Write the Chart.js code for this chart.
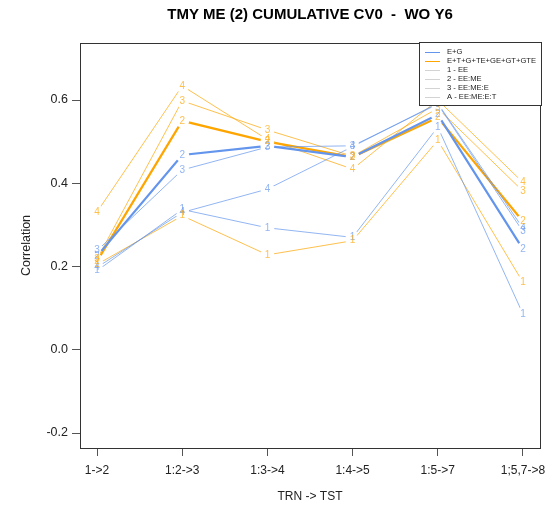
<!DOCTYPE html>
<html>
<head>
<meta charset="utf-8">
<script src="https://cdn.jsdelivr.net/npm/chart.js@4/dist/chart.umd.min.js"></script>
<style>
  body { margin: 0; background: #fff; }
  #wrap { width: 549px; height: 512px; }
</style>
</head>
<body>
<div id="wrap"><canvas id="grafica" width="549" height="512"></canvas></div>
<script>
const categorias = ["1->2", "1:2->3", "1:3->4", "1:4->5", "1:5->7", "1;5,7->8"];
const ticksY = [-0.2, 0.0, 0.2, 0.4, 0.6];

// E+G (azul)
const azul1 = [0.190, 0.337, 0.293, 0.270, 0.535, 0.086];
const azul2 = [0.225, 0.468, 0.490, 0.463, 0.565, 0.242];
const azul3 = [0.238, 0.432, 0.487, 0.490, 0.590, 0.284];
const azul4 = [0.198, 0.330, 0.386, 0.488, 0.592, 0.292];

// E+T+G+TE+GE+GT+GTE (naranja)
const naranja1 = [0.205, 0.322, 0.228, 0.262, 0.503, 0.162];
const naranja2 = [0.213, 0.550, 0.500, 0.463, 0.558, 0.308];
const naranja3 = [0.218, 0.598, 0.528, 0.465, 0.580, 0.381];
const naranja4 = [0.331, 0.634, 0.505, 0.434, 0.600, 0.402];

const leyenda = [
  { texto: "E+G", color: "#6495ED" },
  { texto: "E+T+G+TE+GE+GT+GTE", color: "#FFA500" },
  { texto: "1 - EE", color: "#d3d3d3" },
  { texto: "2 - EE:ME", color: "#d3d3d3" },
  { texto: "3 - EE:ME:E", color: "#d3d3d3" },
  { texto: "A - EE:ME:E:T", color: "#d3d3d3" }
];

const AZUL_CLARO = "rgba(100,149,237,0.7)";
const NARANJA_CLARO = "rgba(255,165,0,0.7)";
const FUENTE = "'Liberation Sans', Arial, sans-serif";

function serie(valores, marca, color, grueso) {
  return {
    data: valores.map((v, i) => ({ x: i + 1, y: v })),
    marca: marca,
    colorMarca: color === "azul" ? AZUL_CLARO : NARANJA_CLARO,
    borderColor: grueso ? (color === "azul" ? "#6495ED" : "#FFA500") : (color === "azul" ? AZUL_CLARO : NARANJA_CLARO),
    borderWidth: grueso ? 2.2 : 1,
    pointRadius: 0,
    tension: 0,
    fill: false
  };
}

// lineas con hueco alrededor de cada numero (como type="b" en R)
const huecos = {
  id: "huecos",
  beforeDatasetDraw(chart, args) {
    const ctx = chart.ctx;
    ctx.save();
    ctx.beginPath();
    ctx.rect(0, 0, chart.width, chart.height);
    args.meta.data.forEach(p => {
      ctx.moveTo(p.x + 7, p.y);
      ctx.arc(p.x, p.y, 7, 0, Math.PI * 2);
    });
    ctx.clip("evenodd");
  },
  afterDatasetDraw(chart) {
    chart.ctx.restore();
  }
};

const marcas = {
  id: "marcas",
  afterDatasetsDraw(chart) {
    const ctx = chart.ctx;
    ctx.save();
    ctx.font = "10px " + FUENTE;
    ctx.textAlign = "center";
    ctx.textBaseline = "middle";
    chart.data.datasets.forEach((ds, i) => {
      ctx.fillStyle = ds.colorMarca;
      chart.getDatasetMeta(i).data.forEach(p => ctx.fillText(ds.marca, p.x, p.y));
    });
    ctx.restore();
  }
};

const marco = {
  id: "marco",
  afterDraw(chart) {
    const ctx = chart.ctx;
    const a = chart.chartArea;
    ctx.save();
    ctx.strokeStyle = "#333";
    ctx.lineWidth = 1;
    ctx.strokeRect(Math.round(a.left) + 0.5, Math.round(a.top) + 0.5, Math.round(a.right - a.left), Math.round(a.bottom - a.top));

    // titulo
    ctx.fillStyle = "#000";
    ctx.font = "bold 15px " + FUENTE;
    ctx.textAlign = "center";
    ctx.textBaseline = "middle";
    ctx.fillText("TMY ME (2) CUMULATIVE CV0  -  WO Y6", (a.left + a.right) / 2, 15);

    // leyenda
    const x0 = a.right - 121, y0 = a.top - 1, w = 122, h = 63;
    ctx.fillStyle = "#fff";
    ctx.fillRect(x0, y0, w, h);
    ctx.strokeStyle = "#333";
    ctx.strokeRect(x0 + 0.5, y0 + 0.5, w, h);
    ctx.font = "7.6px " + FUENTE;
    ctx.textAlign = "left";
    leyenda.forEach((l, i) => {
      const y = y0 + 10 + i * 9;
      ctx.strokeStyle = l.color;
      ctx.beginPath();
      ctx.moveTo(x0 + 6, y + 0.5);
      ctx.lineTo(x0 + 21, y + 0.5);
      ctx.stroke();
      ctx.fillStyle = "#222";
      ctx.fillText(l.texto, x0 + 28, y);
    });
    ctx.restore();
  }
};

new Chart(document.getElementById("grafica").getContext("2d"), {
  type: "line",
  data: {
    datasets: [
      serie(azul1, "1", "azul", false),
      serie(azul2, "2", "azul", true),
      serie(azul3, "3", "azul", false),
      serie(azul4, "4", "azul", false),
      serie(naranja1, "1", "naranja", false),
      serie(naranja2, "2", "naranja", true),
      serie(naranja3, "3", "naranja", false),
      serie(naranja4, "4", "naranja", false)
    ]
  },
  options: {
    responsive: false,
    animation: false,
    layout: { padding: { top: 43, right: 9, left: 0, bottom: 0 } },
    plugins: {
      legend: { display: false },
      title: { display: false },
      tooltip: { enabled: false }
    },
    scales: {
      x: {
        type: "linear",
        min: 0.8,
        max: 6.2,
        afterBuildTicks: s => { s.ticks = categorias.map((c, i) => ({ value: i + 1 })); },
        afterFit: s => { s.height = 64; s.paddingLeft = 0; s.paddingRight = 0; },
        border: { display: false },
        grid: { drawOnChartArea: false, drawTicks: true, tickLength: 8, tickColor: "#555" },
        ticks: {
          padding: 7,
          color: "#222",
          font: { family: FUENTE, size: 12 },
          maxRotation: 0,
          autoSkip: false,
          callback: v => categorias[v - 1]
        },
        title: {
          display: true,
          text: "TRN -> TST",
          color: "#222",
          font: { family: FUENTE, size: 12 },
          padding: { top: 4, bottom: 8 }
        }
      },
      y: {
        min: -0.236,
        max: 0.737,
        afterBuildTicks: s => { s.ticks = ticksY.map(v => ({ value: v })); },
        afterFit: s => { s.width = 80; s.paddingTop = 0; s.paddingBottom = 0; },
        border: { display: false },
        grid: { drawOnChartArea: false, drawTicks: true, tickLength: 8, tickColor: "#555" },
        ticks: {
          padding: 4,
          color: "#222",
          font: { family: FUENTE, size: 12.5 },
          callback: v => v.toFixed(1)
        },
        title: {
          display: true,
          text: "Correlation",
          color: "#222",
          font: { family: FUENTE, size: 12.5 },
          padding: { top: 19, bottom: 4 }
        }
      }
    }
  },
  plugins: [huecos, marcas, marco]
});
</script>
</body>
</html>
